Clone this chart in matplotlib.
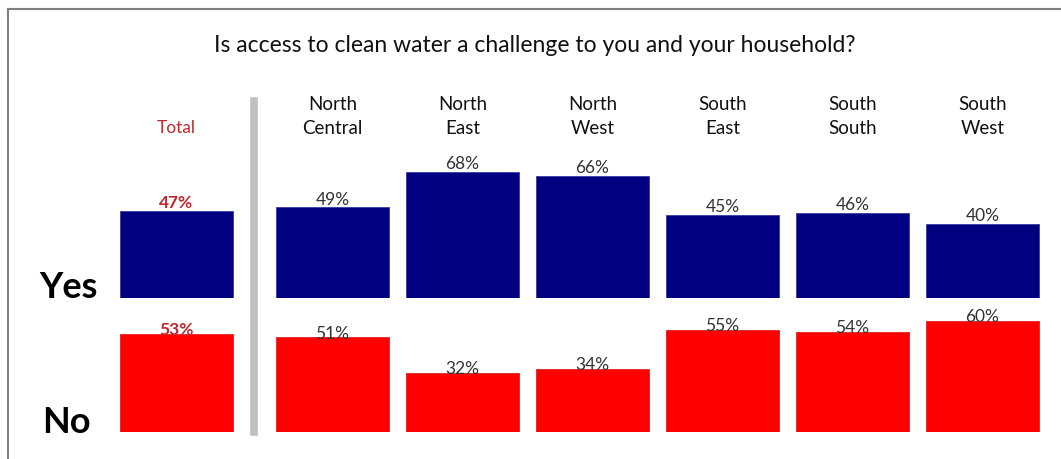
import matplotlib
matplotlib.use("Agg")
import matplotlib.pyplot as plt
from matplotlib.lines import Line2D

plt.rcParams['font.family'] = ['Lato', 'DejaVu Sans']

title = "Is access to clean water a challenge to you and your household?"
categories = ["Total", "North\nCentral", "North\nEast", "North\nWest", "South\nEast", "South\nSouth", "South\nWest"]
yes_values = [47, 49, 68, 66, 45, 46, 40]
no_values = [53, 51, 32, 34, 55, 54, 60]
row_labels = ["Yes", "No"]

W, H = 1061, 460
fig = plt.figure(figsize=(W / 100, H / 100), dpi=100)

# positions (Total separated from regions by a wider gap)
xpos = [0] + [1.2 + i for i in range(len(categories) - 1)]
px_per_unit = 130.0
x0_px = 176.5
xlim = (-x0_px / px_per_unit, (W - x0_px) / px_per_unit)
px_per_pct = 1.855

def make_ax(base_px, top_px):
    ax = fig.add_axes([0, 1 - base_px / H, 1, (base_px - top_px) / H])
    ax.set_xlim(*xlim)
    ax.set_ylim(0, (base_px - top_px) / px_per_pct)
    ax.axis('off')
    return ax

ax_yes = make_ax(299, 150)
ax_no = make_ax(433, 300)

blue = "#000080"
red = "#ff0000"
bw = 113 / 130

ax_yes.bar(xpos, yes_values, width=bw, color=blue, edgecolor="#3a3aa0", linewidth=0.6)
ax_no.bar(xpos, no_values, width=bw, color=red, edgecolor="#e02020", linewidth=0.6)

for i, (x, v) in enumerate(zip(xpos, yes_values)):
    col = "#c0282d" if i == 0 else "#333333"
    fw = 'bold' if i == 0 else 'normal'
    ax_yes.text(x, v + 0.2, f"{v}%", ha='center', va='bottom', fontsize=12.5, color=col, fontweight=fw)
for i, (x, v) in enumerate(zip(xpos, no_values)):
    col = "#c0282d" if i == 0 else "#333333"
    fw = 'bold' if i == 0 else 'normal'
    ax_no.text(x, v - 1.8, f"{v}%", ha='center', va='bottom', fontsize=12.5, color=col, fontweight=fw)

# headers
for i, (x, c) in enumerate(zip(xpos, categories)):
    xf = (x0_px + x * px_per_unit) / W
    if i == 0:
        fig.text(xf, 1 - 128 / H, c, ha='center', va='center', fontsize=12.5, color="#c0282d")
    else:
        lines = c.split("\n")
        fig.text(xf, 1 - 104 / H, lines[0], ha='center', va='center', fontsize=13.5, color="#111111")
        fig.text(xf, 1 - 129 / H, lines[1], ha='center', va='center', fontsize=13.5, color="#111111")

fig.text(535 / W, 1 - 46 / H, title, ha='center', va='center', fontsize=16.5, color="#111111")

fig.text(68 / W, 1 - 288 / H, row_labels[0], ha='center', va='center', fontsize=26, fontweight='bold', color="black")
fig.text(66 / W, 1 - 423 / H, row_labels[1], ha='center', va='center', fontsize=26, fontweight='bold', color="black")

# separator and frame
fig.add_artist(Line2D([254 / W, 254 / W], [1 - 102 / H, 1 - 433 / H], color="#c0c0c0", linewidth=5.5))
fig.add_artist(Line2D([8 / W, 1], [1 - 10 / H, 1 - 10 / H], color="#808080", linewidth=1.5))
fig.add_artist(Line2D([8 / W, 8 / W], [1 - 10 / H, 0], color="#808080", linewidth=1.5))

fig.savefig("out.png", dpi=100, facecolor="white")
